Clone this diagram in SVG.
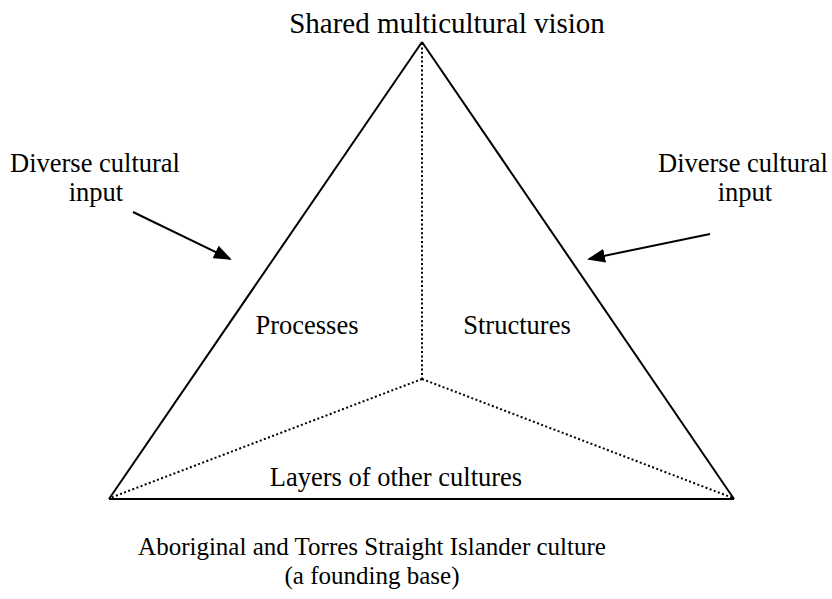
<svg xmlns="http://www.w3.org/2000/svg" width="832" height="599" viewBox="0 0 832 599">
  <style>
    text { font-family: "Liberation Serif", "Times New Roman", serif; font-size: 26.5px; fill: #000; text-anchor: middle; }
    .title { font-size: 29px; }
    .foot { font-size: 25px; }
    .solid { stroke: #000; stroke-width: 2; fill: none; }
    .dotted { stroke: #000; stroke-width: 2; fill: none; stroke-dasharray: 2 2.4; }
    .arrow { stroke: #000; stroke-width: 2; fill: none; marker-end: url(#head); }
  </style>
  <defs>
    <marker id="head" markerWidth="18" markerHeight="14" refX="16" refY="7" orient="auto" markerUnits="userSpaceOnUse">
      <path d="M0,0 L18,7 L0,14 Z" fill="#000"/>
    </marker>
  </defs>
  <rect width="832" height="599" fill="#fff"/>

  <!-- pyramid outline, inner dotted edges and input arrows -->
  <g id="connectors">
    <line class="solid" x1="422" y1="42" x2="109" y2="499"/>
    <line class="solid" x1="422" y1="42" x2="734" y2="499"/>
    <line class="solid" x1="109" y1="499" x2="734" y2="499" stroke-width="2.4"/>
    <line class="dotted" x1="422" y1="43" x2="422" y2="379"/>
    <line class="dotted" x1="422" y1="379" x2="110" y2="498"/>
    <line class="dotted" x1="422" y1="379" x2="733" y2="498"/>
    <line class="arrow" x1="133" y1="212" x2="230" y2="259"/>
    <line class="arrow" x1="710" y1="234" x2="589" y2="259"/>
  </g>

  <g id="apex"><text class="title" x="447" y="33">Shared multicultural vision</text></g>
  <g id="input-left">
    <text x="95" y="172">Diverse cultural</text>
    <text x="96" y="201">input</text>
  </g>
  <g id="input-right">
    <text x="743" y="172">Diverse cultural</text>
    <text x="745" y="201">input</text>
  </g>
  <g id="processes"><text x="307" y="334">Processes</text></g>
  <g id="structures"><text x="517" y="334">Structures</text></g>
  <g id="layers"><text x="396" y="486">Layers of other cultures</text></g>
  <g id="base">
    <text class="foot" x="372" y="555">Aboriginal and Torres Straight Islander culture</text>
    <text class="foot" x="372" y="584">(a founding base)</text>
  </g>
</svg>
